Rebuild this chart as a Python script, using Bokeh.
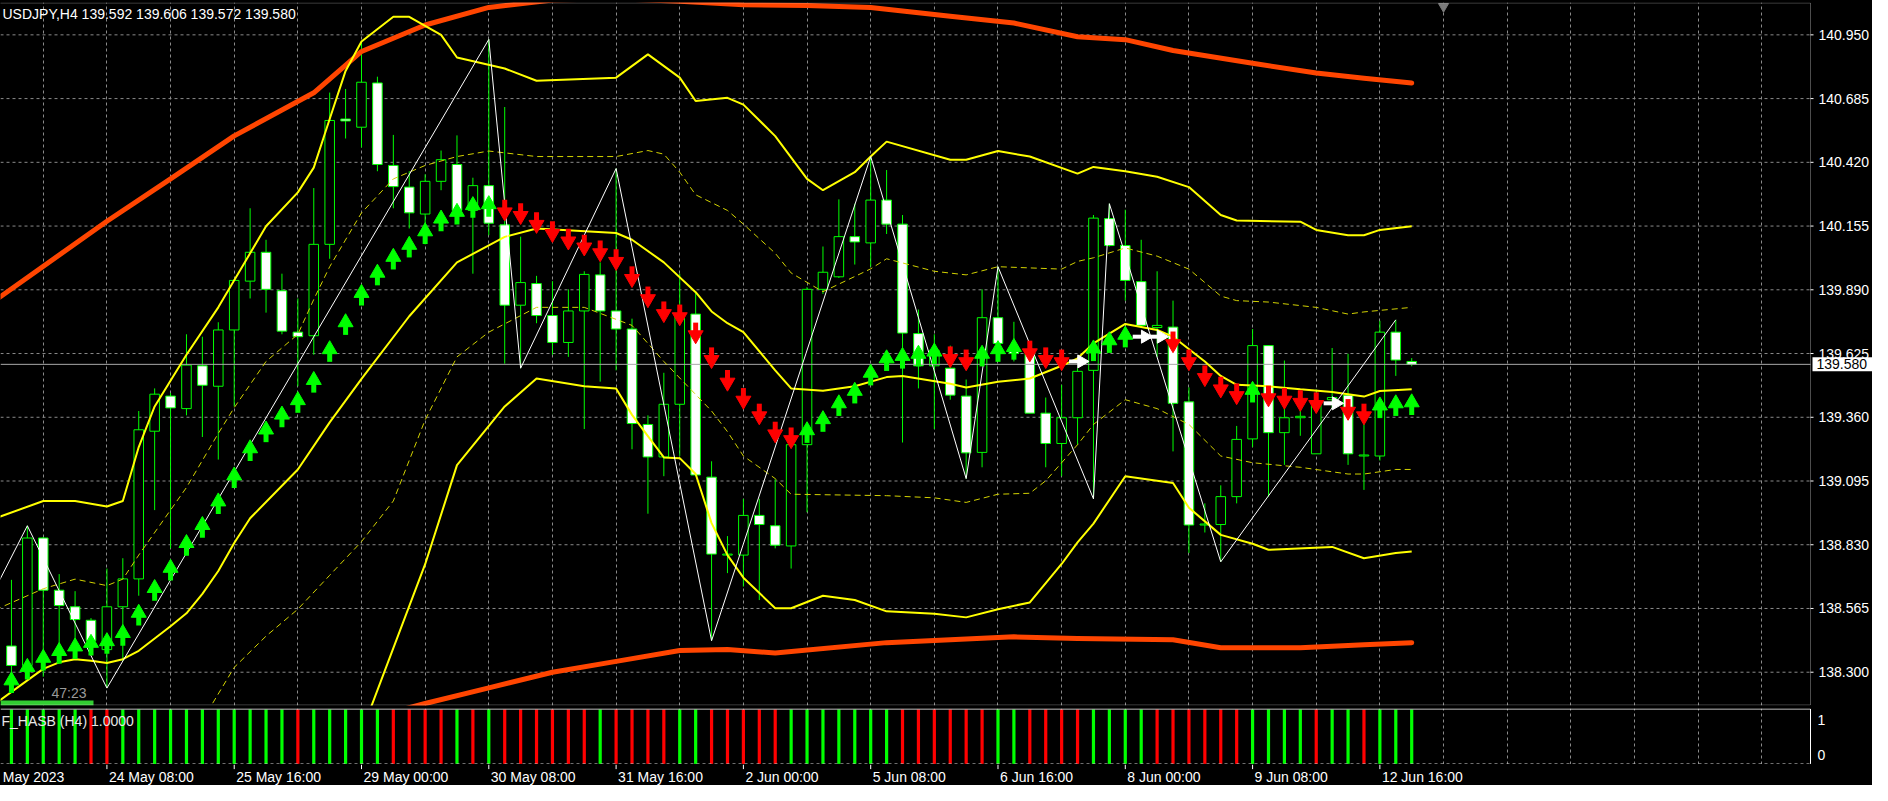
import math
from bokeh.plotting import figure
from bokeh.layouts import column
from bokeh.models import (Range1d, FixedTicker, Label, BoxAnnotation, ColumnDataSource)
from bokeh.core.properties import value
from bokeh.embed import file_html
from bokeh.resources import INLINE

FONT = "Liberation Sans"

# ---------------------------------------------------------------- texts
symbol_title = "USDJPY,H4  139.592 139.606 139.572 139.580"
indicator_title = "F_HASB (H4) 1.0000"
countdown_text = "47:23"
last_price_text = "139.580"
ind_level_labels = ["1", "0"]
ind_level_pos = [0.80, 0.17]

# ---------------------------------------------------------------- candles (H4)
opens = [138.409, 138.328, 138.858, 138.641, 138.572, 138.516, 138.394, 138.572, 138.688, 139.302,
         139.448, 139.396, 139.574, 139.489, 139.723, 139.926, 140.046, 139.886, 139.714, 139.699,
         140.079, 140.600, 140.566, 140.750, 140.407, 140.317, 140.205, 140.341, 140.411, 140.220,
         140.323, 140.160, 139.826, 139.916, 139.783, 139.671, 139.802, 139.952, 139.802, 139.727,
         139.330, 139.195, 139.414, 139.789, 139.111, 138.787, 138.787, 138.952, 138.909, 138.825,
         139.246, 139.892, 139.944, 140.111, 140.085, 140.263, 140.163, 139.708, 139.574, 139.564,
         139.448, 139.214, 139.774, 139.648, 139.625, 139.377, 139.251, 139.358, 139.555, 140.186,
         140.074, 139.924, 139.733, 139.735, 139.424, 138.912, 138.914, 139.030, 139.270, 139.658,
         139.296, 139.358, 139.208, 139.433, 139.452, 139.199, 139.199, 139.714, 139.592]
highs = [138.684, 138.909, 138.862, 138.708, 138.637, 138.525, 138.731, 138.774, 139.386, 139.480,
         139.461, 139.705, 139.695, 139.755, 139.933, 140.229, 140.098, 139.957, 139.854, 140.313,
         140.710, 140.725, 140.922, 140.776, 140.534, 140.383, 140.370, 140.469, 140.532, 140.356,
         140.931, 140.650, 140.111, 139.948, 139.926, 139.892, 139.967, 140.004, 140.394, 139.770,
         139.368, 139.545, 139.957, 139.883, 139.177, 138.866, 139.021, 139.021, 139.102, 139.246,
         139.901, 140.070, 140.266, 140.248, 140.444, 140.388, 140.201, 139.808, 139.705, 139.658,
         139.517, 139.892, 139.986, 139.757, 139.658, 139.442, 139.495, 139.564, 140.201, 140.248,
         140.223, 140.098, 139.967, 139.845, 139.484, 139.002, 139.077, 139.324, 139.727, 139.658,
         139.596, 139.470, 139.476, 139.648, 139.624, 139.405, 139.761, 139.765, 139.606]
lows = [138.244, 138.281, 138.281, 138.338, 138.394, 138.375, 138.234, 138.347, 138.618, 138.974,
        138.815, 139.368, 139.278, 139.184, 139.405, 139.854, 139.795, 139.705, 139.489, 139.620,
        140.019, 140.519, 140.482, 140.383, 140.229, 140.145, 140.079, 140.304, 140.173, 139.957,
        140.117, 139.583, 139.564, 139.751, 139.620, 139.611, 139.311, 139.508, 139.555, 139.227,
        138.959, 139.115, 139.199, 139.115, 138.431, 138.712, 138.656, 138.600, 138.815, 138.731,
        138.965, 139.873, 139.939, 139.995, 139.986, 140.122, 139.255, 139.480, 139.311, 139.433,
        139.105, 139.152, 139.648, 139.592, 139.377, 139.152, 139.115, 139.246, 139.021, 140.070,
        139.845, 139.733, 139.611, 139.218, 138.796, 138.881, 138.759, 139.002, 139.236, 139.030,
        139.162, 139.283, 139.208, 139.396, 139.162, 139.058, 139.180, 139.532, 139.572]
closes = [138.328, 138.858, 138.641, 138.577, 138.519, 138.431, 138.572, 138.688, 139.308, 139.456,
          139.399, 139.577, 139.493, 139.723, 139.929, 140.046, 139.892, 139.718, 139.695, 140.079,
          140.594, 140.592, 140.753, 140.411, 140.319, 140.210, 140.341, 140.431, 140.220, 140.323,
          140.167, 139.826, 139.920, 139.783, 139.671, 139.802, 139.954, 139.802, 139.727, 139.334,
          139.195, 139.414, 139.789, 139.120, 138.791, 138.787, 138.952, 138.914, 138.828, 139.246,
          139.892, 139.963, 140.111, 140.089, 140.263, 140.163, 139.710, 139.574, 139.639, 139.452,
          139.212, 139.774, 139.667, 139.625, 139.377, 139.251, 139.358, 139.551, 140.188, 140.074,
          139.929, 139.742, 139.742, 139.418, 138.912, 138.914, 139.030, 139.268, 139.658, 139.296,
          139.358, 139.364, 139.414, 139.442, 139.208, 139.203, 139.714, 139.598, 139.580]

# ---------------------------------------------------------------- trend arrows
arrow_dir = ("UUUUUUUUUUUUUUUUUUUUUUUUUUUUUUU" "DDDDDDDDDDDDDDDDDDD" "UUUUUUUUU" "DD" "UUU" "DDD"
             "R" "UUU" "RR" "DDDDD" "U" "DDDD" "R" "DD" "UUU")
arrow_val = [138.253, 138.309, 138.347, 138.375, 138.394, 138.409, 138.416, 138.450, 138.534, 138.637,
             138.721, 138.824, 138.899, 138.997, 139.105, 139.218, 139.296, 139.358, 139.418, 139.502,
             139.630, 139.742, 139.864, 139.948, 140.014, 140.064, 140.120, 140.173, 140.201, 140.229,
             140.233, 140.225, 140.210, 140.173, 140.135, 140.104, 140.079, 140.055, 140.019, 139.948,
             139.864, 139.802, 139.789, 139.714, 139.611, 139.517, 139.442, 139.377, 139.302, 139.278,
             139.293, 139.339, 139.405, 139.457, 139.532, 139.592, 139.602, 139.611, 139.620, 139.615,
             139.602, 139.611, 139.630, 139.639, 139.639, 139.611, 139.602, 139.592, 139.633, 139.667,
             139.690, 139.695, 139.695, 139.677, 139.602, 139.536, 139.489, 139.461, 139.461, 139.452,
             139.442, 139.433, 139.424, 139.418, 139.396, 139.377, 139.396, 139.405, 139.409]

# ---------------------------------------------------------------- histogram (F_HASB)
hist_col = ("GGGGG" "RR" "GGGGGGGGGGG" "R" "GGGGG" "RRRR" "G" "R" "G" "RRRRRR" "G" "RRRR" "GG"
            "RRRRR" "GGGGGGG" "RRRRRR" "GG" "RRRR" "GGGG" "RRRRRR" "GGGG" "R" "GG" "R" "GGG")
hist_val = [1, 1, 1, 1, 1, 1, 1, 1, 1, 1, 1, 1, 1, 1, 1, 1, 1, 1, 1, 1, 1, 1, 1, 1, 1, 1, 1, 1, 1, 1,
            1, 1, 1, 1, 1, 1, 1, 1, 1, 1, 1, 1, 1, 1, 1, 1, 1, 1, 1, 1, 1, 1, 1, 1, 1, 1, 1, 1, 1, 1,
            1, 1, 1, 1, 1, 1, 1, 1, 1, 1, 1, 1, 1, 1, 1, 1, 1, 1, 1, 1, 1, 1, 1, 1, 1, 1, 1, 1, 1]

# ---------------------------------------------------------------- indicator lines (bar index, price)
env_up_i = [-1, 6, 10, 14, 19, 22, 26, 30, 34, 38, 42, 46, 50, 54, 59, 63, 67, 70, 73, 78, 82, 85, 88]
env_up_v = [139.847, 140.175, 140.351, 140.530, 140.709, 140.881, 140.991, 141.064, 141.095, 141.100,
            141.090, 141.075, 141.072, 141.064, 141.027, 140.999, 140.942, 140.930, 140.885, 140.832,
            140.791, 140.770, 140.750]
env_lo_i = [18, 22, 26, 30, 34, 38, 42, 45, 48, 55, 59, 63, 67, 73, 76, 81, 85, 88]
env_lo_v = [138.040, 138.100, 138.170, 138.235, 138.300, 138.345, 138.390, 138.394, 138.380, 138.423,
            138.435, 138.447, 138.440, 138.435, 138.402, 138.402, 138.414, 138.423]

bb_up_i = [-1, 2, 4, 6, 7, 8, 9, 11, 13, 16, 18, 19, 20, 21, 22, 24, 25, 27, 28, 31, 33, 38, 40, 42, 43,
           45, 46, 48, 50, 51, 53, 54, 55, 59, 60, 62, 64, 67, 68, 70, 72, 74, 76, 77, 81, 82, 84, 85, 86, 88]
bb_up_v = [138.940, 139.012, 139.012, 138.989, 139.012, 139.236, 139.405, 139.620, 139.817, 140.154,
           140.295, 140.398, 140.600, 140.800, 140.922, 141.025, 141.025, 140.950, 140.856, 140.810,
           140.759, 140.772, 140.869, 140.772, 140.675, 140.688, 140.660, 140.529, 140.351, 140.304,
           140.379, 140.444, 140.506, 140.431, 140.431, 140.467, 140.444, 140.373, 140.401, 140.383,
           140.360, 140.317, 140.201, 140.178, 140.173, 140.139, 140.117, 140.117, 140.139, 140.154]
bb_mid_i = [-1, 1, 2, 3, 4, 5, 6, 7, 8, 10, 11, 12, 13, 14, 15, 18, 20, 22, 25, 28, 31, 33, 38, 39, 41,
            43, 44, 45, 46, 48, 49, 51, 53, 55, 56, 59, 60, 62, 64, 66, 67, 68, 70, 72, 73, 75, 76, 77,
            79, 81, 83, 85, 86, 88]
bb_mid_v = [138.170, 138.266, 138.314, 138.341, 138.354, 138.348, 138.338, 138.354, 138.389, 138.491,
            138.545, 138.626, 138.721, 138.837, 138.940, 139.143, 139.339, 139.520, 139.780, 140.004,
            140.110, 140.145, 140.126, 140.098, 140.004, 139.880, 139.800, 139.751, 139.714, 139.555,
            139.480, 139.470, 139.489, 139.527, 139.532, 139.499, 139.484, 139.508, 139.521, 139.574,
            139.605, 139.667, 139.748, 139.723, 139.695, 139.592, 139.532, 139.495, 139.489, 139.476,
            139.465, 139.446, 139.469, 139.476]
bb_lo_i = [20, 22, 24, 26, 28, 31, 33, 36, 38, 39, 41, 42, 43, 44, 45, 46, 48, 49, 51, 53, 55, 58, 60,
           62, 64, 66, 67, 68, 70, 73, 74, 76, 78, 79, 83, 85, 87, 88]
bb_lo_v = [137.800, 138.050, 138.400, 138.749, 139.161, 139.405, 139.521, 139.489, 139.480, 139.370,
           139.193, 139.190, 139.124, 138.920, 138.787, 138.693, 138.566, 138.566, 138.618, 138.600,
           138.553, 138.543, 138.528, 138.562, 138.590, 138.750, 138.840, 138.918, 139.115, 139.087,
           138.984, 138.871, 138.834, 138.809, 138.821, 138.774, 138.796, 138.802]

bb2_up_i = [-1, 2, 4, 6, 7, 8, 11, 13, 14, 16, 18, 19, 20, 22, 24, 26, 28, 30, 33, 38, 40, 41, 42, 43,
            45, 46, 48, 49, 51, 54, 55, 58, 60, 62, 66, 67, 68, 70, 72, 74, 75, 76, 77, 79, 82, 84, 85, 88]
bb2_up_v = [138.560, 138.647, 138.687, 138.660, 138.687, 138.787, 139.068, 139.293, 139.400, 139.592,
            139.705, 139.850, 139.986, 140.210, 140.351, 140.407, 140.444, 140.467, 140.444, 140.444,
            140.469, 140.454, 140.379, 140.285, 140.220, 140.163, 140.042, 139.960, 139.882, 139.977,
            140.019, 139.967, 139.952, 139.986, 139.976, 140.008, 140.023, 140.064, 140.030, 139.976,
            139.920, 139.864, 139.845, 139.839, 139.817, 139.789, 139.798, 139.817]
bb2_lo_i = [12, 14, 16, 18, 20, 22, 24, 26, 28, 30, 33, 36, 39, 41, 44, 45, 46, 48, 49, 55, 58, 60, 62,
            64, 65, 67, 68, 70, 72, 74, 76, 78, 81, 84, 85, 87, 88]
bb2_lo_v = [138.100, 138.320, 138.450, 138.562, 138.703, 138.843, 139.012, 139.349, 139.611, 139.714,
            139.817, 139.817, 139.742, 139.592, 139.386, 139.300, 139.199, 139.105, 139.040, 139.034,
            139.025, 139.006, 139.040, 139.044, 139.096, 139.246, 139.330, 139.433, 139.396, 139.330,
            139.199, 139.171, 139.152, 139.124, 139.124, 139.143, 139.143]

zigzag_i = [-2, 1, 6, 30, 32, 38, 44, 54, 60, 62, 68, 69, 76, 87]
zigzag_v = [138.520, 138.909, 138.234, 140.931, 139.564, 140.394, 138.431, 140.444, 139.105, 139.986,
            139.021, 140.248, 138.759, 139.765]

# ---------------------------------------------------------------- axes
price_ticks = [138.300, 138.565, 138.830, 139.095, 139.360, 139.625, 139.890, 140.155, 140.420,
               140.685, 140.950]
time_tick_i = [-2, 6, 14, 22, 30, 38, 46, 54, 62, 70, 78, 86]
time_labels = ["May 2023", "24 May 08:00", "25 May 16:00", "29 May 00:00", "30 May 08:00",
               "31 May 16:00", "2 Jun 00:00", "5 Jun 08:00", "6 Jun 16:00", "8 Jun 00:00",
               "9 Jun 08:00", "12 Jun 16:00"]

n = len(opens)
for arr in (highs, lows, closes, arrow_val, hist_val):
    assert len(arr) == n
assert len(arrow_dir) == n and len(hist_col) == n

# ---------------------------------------------------------------- layout constants (pixels)
FW_ALL = 1872          # full frame width (chart + price scale)
FW_CHART = 1810        # chart area up to the right border
MH, IH, SH = 703, 56, 21
X_START = -0.6875
bx = 113.75 / FW_CHART             # bar units per pixel
X_BORDER = X_START + FW_CHART * bx
X_RIGHT = X_START + FW_ALL * bx
Y_START, Y_END = 138.1616, 141.0845
py = (Y_END - Y_START) / MH        # price units per pixel

BG = "#000000"
GRID = "#8a8a8a"
CANDLE = "#00FF00"
UPC, DNC, RTC = "#00FF00", "#FF0000", "#FFFFFF"

xr = Range1d(X_START, X_RIGHT)
vgrid = list(range(-2, 114, 4))


def base_fig(fh, yr, top=0, bottom=0):
    f = figure(frame_width=FW_ALL, frame_height=fh, x_range=xr, y_range=yr,
               output_backend="svg", toolbar_location=None, tools="",
               x_axis_location=None, y_axis_location=None,
               background_fill_color=BG, border_fill_color=BG, outline_line_color=None,
               min_border_left=0, min_border_right=0, min_border_top=top,
               min_border_bottom=bottom)
    f.xgrid.ticker = FixedTicker(ticks=vgrid)
    f.xgrid.grid_line_color = GRID
    f.xgrid.grid_line_dash = "3 3"
    f.ygrid.visible = False
    return f


# ================================================================ main price panel
p = base_fig(MH, Range1d(Y_START, Y_END), top=2, bottom=1)

# horizontal grid + price scale ticks
p.segment(x0=X_START, y0=price_ticks, x1=X_BORDER, y1=price_ticks, line_color=GRID, line_width=1,
          line_dash="3 3")
p.segment(x0=X_BORDER, y0=price_ticks, x1=X_BORDER + 3 * bx, y1=price_ticks, line_color="#FFFFFF",
          line_width=1)

idx = list(range(n))
tops, bots, fills = [], [], []
for o, c in zip(opens, closes):
    hi, lo = max(o, c), min(o, c)
    if hi - lo < py:
        hi = lo + py
    tops.append(hi)
    bots.append(lo)
    fills.append("#FFFFFF" if c < o else "#000000")
cs = ColumnDataSource(dict(x=idx, h=highs, l=lows, top=tops, bot=bots, fill=fills))
p.segment(x0="x", y0="l", x1="x", y1="h", source=cs, line_color=CANDLE, line_width=1)
p.vbar(x="x", width=0.6, top="top", bottom="bot", source=cs, fill_color="fill",
       line_color=CANDLE, line_width=1)

# current price line
p.segment(x0=X_START, y0=closes[-1], x1=X_BORDER, y1=closes[-1], line_color="#A8A8A8", line_width=1)

# envelopes / bands
p.line(env_up_i, env_up_v, line_color="#FF4500", line_width=5, line_cap="round", line_join="round")
p.line(env_lo_i, env_lo_v, line_color="#FF4500", line_width=5, line_cap="round", line_join="round")
for xs, ys in ((bb2_up_i, bb2_up_v), (bb2_lo_i, bb2_lo_v)):
    p.line(xs, ys, line_color="#D2D200", line_width=1, line_dash="6 4")
for xs, ys in ((bb_up_i, bb_up_v), (bb_mid_i, bb_mid_v), (bb_lo_i, bb_lo_v)):
    p.line(xs, ys, line_color="#FFFF00", line_width=2)
p.line(zigzag_i, zigzag_v, line_color="#FFFFFF", line_width=1)

# arrows
ux = [i for i in idx if arrow_dir[i] == "U"]
uy = [arrow_val[i] for i in ux]
dx = [i for i in idx if arrow_dir[i] == "D"]
dy = [arrow_val[i] for i in dx]
rx = [i for i in idx if arrow_dir[i] == "R"]
ry = [arrow_val[i] for i in rx]

p.rect(x=ux, y=[v - 5 * py for v in uy], width=5 * bx, height=9 * py, fill_color=UPC, line_color=None)
p.scatter(x=ux, y=[v + 3 * py for v in uy], marker="triangle", size=15, fill_color=UPC, line_color=UPC)
p.rect(x=dx, y=[v + 5 * py for v in dy], width=5 * bx, height=9 * py, fill_color=DNC, line_color=None)
p.scatter(x=dx, y=[v - 3 * py for v in dy], marker="inverted_triangle", size=15, fill_color=DNC,
          line_color=DNC)
p.rect(x=[i - 3 * bx for i in rx], y=ry, width=11 * bx, height=4 * py, fill_color=RTC, line_color=None)
p.scatter(x=[i + 4 * bx for i in rx], y=ry, marker="triangle", angle=-math.pi / 2, size=13,
          fill_color=RTC, line_color=RTC)

# chart-shift marker
p.scatter(x=[n + 1], y=[Y_END - 4 * py], marker="inverted_triangle", size=10,
          fill_color="#7a7a7a", line_color="#7a7a7a")

# frame border of the chart area
p.add_layout(BoxAnnotation(left=X_START - 10 * bx, right=X_BORDER, bottom=Y_START + 0.5 * py,
                           top=Y_END - 0.5 * py, fill_color=None, fill_alpha=0,
                           line_color="#FFFFFF", line_width=1, level="overlay"))

# price scale labels
p.text(x=X_BORDER + 8 * bx, y=price_ticks, text=[f"{v:.3f}" for v in price_ticks],
       text_color="#FFFFFF", text_font=value(FONT), text_font_size=value("14px"),
       text_baseline="middle", text_align="left")
# last price box
p.rect(x=X_BORDER + 32 * bx, y=closes[-1], width=60 * bx, height=14 * py, fill_color="#FFFFFF",
       line_color=None)
p.text(x=X_BORDER + 6 * bx, y=[closes[-1]], text=[last_price_text], text_color="#000000",
       text_font=value(FONT), text_font_size=value("14px"), text_baseline="middle",
       text_align="left")

# texts inside the chart
p.add_layout(Label(x=X_START + 2 * bx, y=Y_END - 3 * py, text=symbol_title, text_color="#FFFFFF",
                   text_font=FONT, text_font_size="14px", text_baseline="top", text_align="left"))
p.add_layout(BoxAnnotation(left=X_START, right=X_START + 93 * bx, bottom=Y_START, top=Y_START + 5 * py,
                           fill_color="#32CD32", fill_alpha=1.0, line_color=None))
p.add_layout(Label(x=X_START + 51 * bx, y=Y_START + 13 * py, text=countdown_text, text_color="#9A9A9A",
                   text_font=FONT, text_font_size="14px", text_baseline="middle", text_align="left"))

# ================================================================ indicator panel
qy = 1.0 / IH
q = base_fig(IH, Range1d(-0.6 * qy, 1 + 1.0 * qy), top=2, bottom=0)
hcolors = ["#00FF00" if ch == "G" else "#FF0000" for ch in hist_col]
q.vbar(x=idx, top=hist_val, bottom=0, width=3.2 * bx, fill_color=hcolors, line_color=None)
q.segment(x0=X_START, y0=1 + 0.5 * qy, x1=X_BORDER, y1=1 + 0.5 * qy, line_color="#FFFFFF", line_width=1)
q.segment(x0=X_START, y0=0, x1=X_BORDER, y1=0, line_color="#BBBBBB", line_width=1, line_dash="3 3")
q.segment(x0=X_BORDER, y0=0, x1=X_BORDER, y1=1 + 0.5 * qy, line_color="#FFFFFF", line_width=1)
q.text(x=[X_START + 1 * bx], y=[0.79], text=[indicator_title], text_color="#E6E6E6",
       text_font=value(FONT), text_font_size=value("14px"), text_baseline="middle", text_align="left")
q.text(x=X_BORDER + 7 * bx, y=ind_level_pos, text=ind_level_labels, text_color="#FFFFFF",
       text_font=value(FONT), text_font_size=value("14px"), text_baseline="middle", text_align="left")

# ================================================================ time labels strip
r = base_fig(SH, Range1d(0, 1), top=0, bottom=0)
r.xgrid.visible = False
r.segment(x0=time_tick_i[1:], y0=1, x1=time_tick_i[1:], y1=0.78, line_color="#FFFFFF", line_width=1)
label_x = [X_START + 0.3 * bx] + time_tick_i[1:]
r.text(x=label_x, y=0.42, text=time_labels, x_offset=2, text_color="#FFFFFF",
       text_font=value(FONT), text_font_size=value("14px"), text_baseline="middle", text_align="left")

layout = column(p, q, r, spacing=0, styles={"background-color": "#000000"})
open("out.html", "w").write(file_html(layout, INLINE))
